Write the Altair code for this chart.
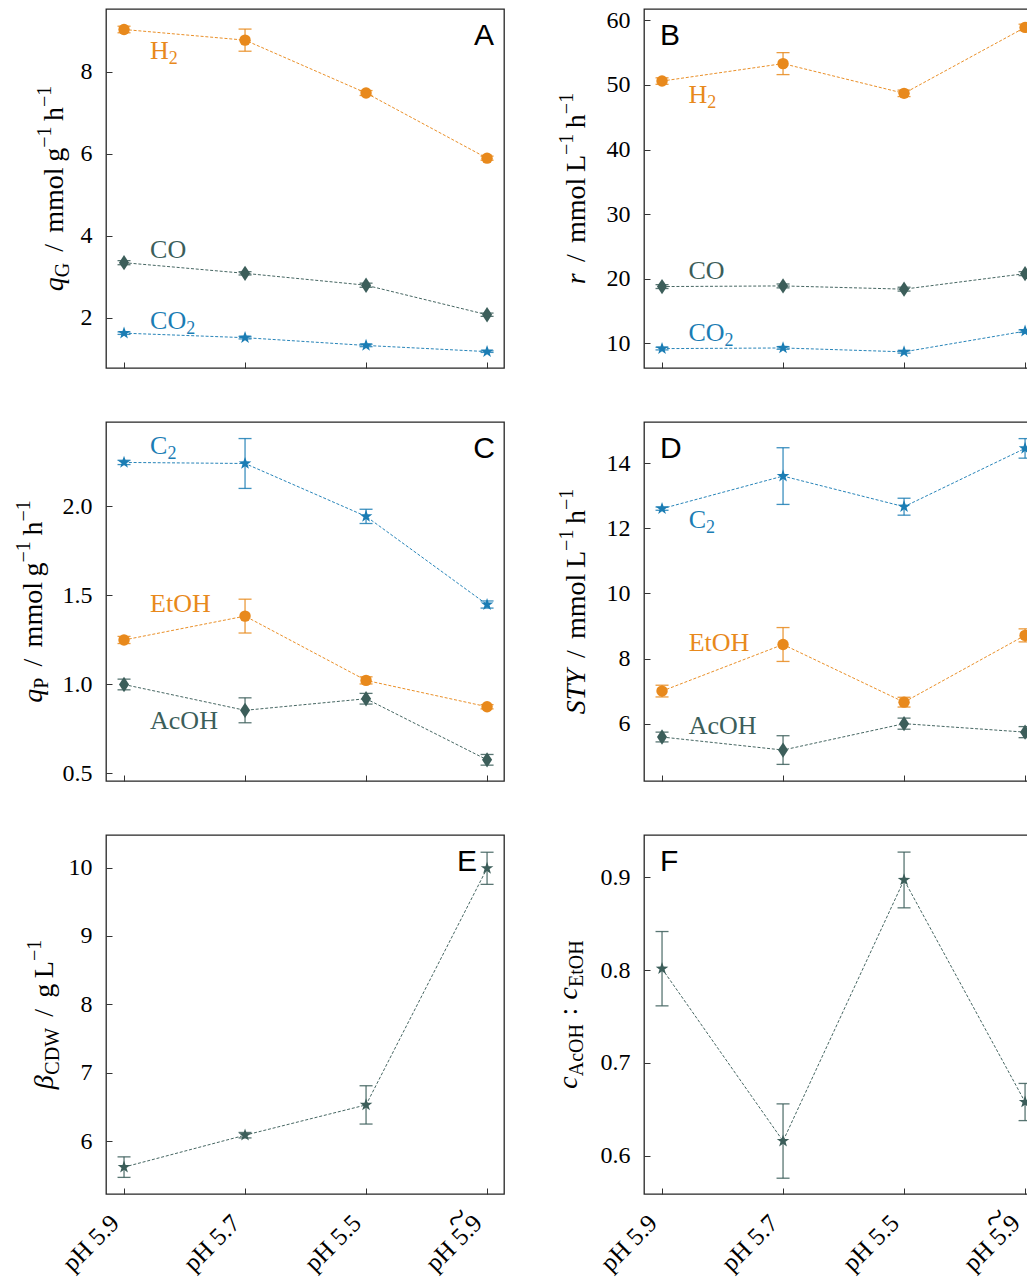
import altair as alt
import pandas as pd

# ---------------- data ----------------
CATS = ["pH 5.9", "pH 5.7", "pH 5.5", "pH 5.9"]
TILDE_ON = [False, False, False, True]   # last label carries a wide tilde over "5.9"
XI = [0, 1, 2, 3]

A_H2 = [9.03, 8.77, 7.48, 5.89]
A_H2_err = [0.08, 0.27, 0.06, 0.05]
A_CO = [3.34, 3.08, 2.79, 2.07]
A_CO_err = [0.05, 0.04, 0.05, 0.04]
A_CO2 = [1.62, 1.51, 1.32, 1.17]
A_CO2_err = [0.03, 0.03, 0.03, 0.02]

B_H2 = [50.6, 53.3, 48.7, 58.9]
B_H2_err = [0.5, 1.7, 0.5, 0.5]
B_CO = [18.8, 18.9, 18.4, 20.8]
B_CO_err = [0.3, 0.3, 0.3, 0.3]
B_CO2 = [9.2, 9.3, 8.7, 11.9]
B_CO2_err = [0.2, 0.2, 0.2, 0.2]

C_C2 = [2.246, 2.24, 1.943, 1.448]
C_C2_err = [0.012, 0.14, 0.04, 0.02]
C_EtOH = [1.249, 1.383, 1.022, 0.874]
C_EtOH_err = [0.02, 0.095, 0.02, 0.012]
C_AcOH = [0.999, 0.854, 0.919, 0.576]
C_AcOH_err = [0.03, 0.07, 0.03, 0.03]

D_C2 = [12.6, 13.6, 12.66, 14.45]
D_C2_err = [0.05, 0.87, 0.26, 0.3]
D_EtOH = [7.0, 8.43, 6.66, 8.71]
D_EtOH_err = [0.18, 0.52, 0.15, 0.2]
D_AcOH = [5.59, 5.19, 6.0, 5.74]
D_AcOH_err = [0.15, 0.44, 0.17, 0.17]

E_CDW = [5.62, 6.087, 6.53, 9.99]
E_CDW_err = [0.15, 0.04, 0.28, 0.235]

F_RATIO = [0.8015, 0.616, 0.897, 0.658]
F_RATIO_err = [0.04, 0.04, 0.03, 0.02]

# ---------------- style ----------------
ORANGE = "#E8891C"
DARK = "#3C5E5A"
BLUE = "#1B7DB4"
SERIF = "Liberation Serif"
SANS = "Liberation Sans"
W, H = 398, 359
MAIN, SCRIPT = 28, 20
XLAB = 25

STAR = ("M0,-1L0.235,-0.324L0.951,-0.309L0.38,0.124L0.588,0.809L0,0.4"
        "L-0.588,0.809L-0.38,0.124L-0.951,-0.309L-0.235,-0.324Z")
THIN_DIAMOND = "M0,-1L0.66,0L0,1L-0.66,0Z"
MARK = {
    "circle": dict(shape="circle", size=130),
    "diamond": dict(shape=THIN_DIAMOND, size=235),
    "star": dict(shape=STAR, size=175),
}

REG = {' ': 250, '/': 278, ':': 278, 'm': 778, 'o': 500, 'l': 278, 'g': 500,
       'h': 500, 'L': 611, 'G': 722, 'P': 556, 'C': 667, 'D': 722, 'W': 944,
       'A': 722, 'c': 444, 'O': 722, 'H': 722, 'E': 611, 't': 278,
       '\u2212': 564, '1': 500, '2': 500}
ITA = {'q': 500, 'r': 389, 'S': 500, 'T': 556, 'Y': 556, 'c': 444, '\u03b2': 520}


def tw(s, size, italic=False):
    tab = ITA if italic else REG
    return sum(tab.get(ch, 500) for ch in s) / 1000.0 * size


ONE = pd.DataFrame({"k": [0]})


def text_value(t, x, y, size, style="normal", font=SERIF, angle=0, align="left",
               color="black", baseline="alphabetic"):
    return alt.Chart(ONE).mark_text(
        text=t, angle=angle, align=align, baseline=baseline, font=font,
        fontSize=size, fontStyle=style, color=color,
    ).encode(x=alt.value(x), y=alt.value(y))


def y_title(pieces, base_x):
    widths = []
    for kind, t in pieces:
        if kind == "i":
            widths.append(tw(t, MAIN, True))
        elif kind == "r":
            widths.append(tw(t, MAIN))
        elif kind in ("sub", "sup"):
            widths.append(tw(t, SCRIPT))
        else:
            widths.append(float(t) * MAIN)
    total = sum(widths)
    cur = H / 2 + total / 2
    layers = []
    for (kind, t), w in zip(pieces, widths):
        if kind == "gap":
            cur -= w
            continue
        if kind == "i":
            layers.append(text_value(t, base_x, cur, MAIN, "italic", angle=270))
        elif kind == "r":
            layers.append(text_value(t, base_x, cur, MAIN, angle=270))
        elif kind == "sub":
            layers.append(text_value(t, base_x + 6, cur, SCRIPT, angle=270))
        elif kind == "sup":
            layers.append(text_value(t, base_x - 12, cur, SCRIPT, angle=270))
        cur -= w
    return layers


def panel(series, ydom, yticks, yfmt, letter, letter_x, letter_align,
          title_pieces, title_x, show_x, labels):
    xscale = alt.Scale(domain=[-0.149, 3.14], nice=False, zero=False)
    yscale = alt.Scale(domain=ydom, nice=False, zero=False)
    xaxis = alt.Axis(
        values=XI, title=None, grid=False, domain=False, tickSize=6, offset=-6,
        tickColor="#333333", tickWidth=1, labels=show_x,
        labelExpr="[" + ",".join("'" + c + "'" for c in CATS) + "][datum.value]",
        labelAngle=315, labelAlign="right", labelBaseline="top", labelPadding=16,
        labelOffset=-18, labelFont=SERIF, labelFontSize=XLAB, labelColor="black",
        labelOverlap=False,
    )
    yaxis = alt.Axis(
        values=yticks, format=yfmt, title=None, grid=False, domain=False,
        tickSize=6, offset=-6, tickColor="#333333", tickWidth=1, labelPadding=14,
        labelFont=SERIF, labelFontSize=24, labelColor="black", labelOverlap=False,
    )
    xenc = alt.X("x:Q", scale=xscale, axis=xaxis)
    layers = []
    for vals, errs, color, mk in series:
        df = pd.DataFrame({
            "x": XI, "y": vals,
            "lo": [v - e for v, e in zip(vals, errs)],
            "hi": [v + e for v, e in zip(vals, errs)],
        })
        base = alt.Chart(df)
        layers.append(base.mark_line(color=color, strokeWidth=1, strokeDash=[3, 1.8],
                                     opacity=0.95).encode(
            x=xenc, y=alt.Y("y:Q", scale=yscale, axis=yaxis)))
        layers.append(base.mark_rule(color=color, strokeWidth=1.3, opacity=0.85).encode(
            x=xenc, y=alt.Y("lo:Q", scale=yscale, axis=yaxis), y2="hi:Q"))
        for f in ("lo", "hi"):
            layers.append(base.mark_rule(color=color, strokeWidth=1.3, opacity=0.85,
                                         xOffset=-6.5, x2Offset=6.5).encode(
                x=xenc, x2="x:Q", y=alt.Y(f + ":Q", scale=yscale, axis=yaxis)))
        layers.append(base.mark_point(filled=True, opacity=1, color=color,
                                      **MARK[mk]).encode(
            x=xenc, y=alt.Y("y:Q", scale=yscale, axis=yaxis)))
    for lx, ly, main, sub, color in labels:
        layers.append(alt.Chart(ONE).mark_text(
            text=main, align="left", baseline="alphabetic", font=SERIF,
            fontSize=26, color=color).encode(
            x=alt.X(datum=lx, scale=xscale, axis=xaxis),
            y=alt.Y(datum=ly, scale=yscale, axis=yaxis)))
        if sub:
            layers.append(alt.Chart(ONE).mark_text(
                text=sub, align="left", baseline="alphabetic", font=SERIF,
                fontSize=18, color=color, dx=tw(main, 26), dy=5).encode(
                x=alt.X(datum=lx, scale=xscale, axis=xaxis),
                y=alt.Y(datum=ly, scale=yscale, axis=yaxis)))
    if show_x:
        # wide tilde accent over "5.9" of the flagged category label
        for xi, flag in zip(XI, TILDE_ON):
            if flag:
                layers.append(alt.Chart(ONE).mark_text(
                    text="~", angle=315, align="center", baseline="middle",
                    font=SERIF, fontSize=36, color="black",
                    xOffset=-30, yOffset=24).encode(
                    x=alt.X(datum=xi, scale=xscale, axis=xaxis),
                    y=alt.Y(datum=ydom[0], scale=yscale, axis=yaxis)))
    layers.append(text_value(letter, letter_x, 36, 30, font=SANS, align=letter_align))
    layers += y_title(title_pieces, title_x)
    return alt.layer(*layers).properties(width=W, height=H)


SUPM1 = ("sup", "\u22121")
pA = panel(
    [(A_H2, A_H2_err, ORANGE, "circle"), (A_CO, A_CO_err, DARK, "diamond"),
     (A_CO2, A_CO2_err, BLUE, "star")],
    [0.77, 9.53], [2, 4, 6, 8], "d", "A", 388, "right",
    [("i", "q"), ("sub", "G"), ("gap", 0.4), ("r", "/"), ("gap", 0.4), ("r", "mmol"),
     ("gap", 0.2), ("r", "g"), SUPM1, ("gap", 0.2), ("r", "h"), SUPM1],
    -43, False,
    [(0.215, 8.30, "H", "2", ORANGE), (0.215, 3.456, "CO", None, DARK),
     (0.215, 1.717, "CO", "2", BLUE)],
)
pB = panel(
    [(B_H2, B_H2_err, ORANGE, "circle"), (B_CO, B_CO_err, DARK, "diamond"),
     (B_CO2, B_CO2_err, BLUE, "star")],
    [6.2, 61.75], [10, 20, 30, 40, 50, 60], "d", "B", 16, "left",
    [("i", "r"), ("gap", 0.4), ("r", "/"), ("gap", 0.4), ("r", "mmol"),
     ("gap", 0.2), ("r", "L"), SUPM1, ("gap", 0.2), ("r", "h"), SUPM1],
    -59, False,
    [(0.218, 47.26, "H", "2", ORANGE), (0.218, 20.0, "CO", None, DARK),
     (0.218, 10.36, "CO", "2", BLUE)],
)
pC = panel(
    [(C_C2, C_C2_err, BLUE, "star"), (C_EtOH, C_EtOH_err, ORANGE, "circle"),
     (C_AcOH, C_AcOH_err, DARK, "diamond")],
    [0.457, 2.473], [0.5, 1.0, 1.5, 2.0], ".1f", "C", 389, "right",
    [("i", "q"), ("sub", "P"), ("gap", 0.4), ("r", "/"), ("gap", 0.4), ("r", "mmol"),
     ("gap", 0.2), ("r", "g"), SUPM1, ("gap", 0.2), ("r", "h"), SUPM1],
    -64, False,
    [(0.215, 2.292, "C", "2", BLUE), (0.215, 1.407, "EtOH", None, ORANGE),
     (0.215, 0.747, "AcOH", None, DARK)],
)
pD = panel(
    [(D_C2, D_C2_err, BLUE, "star"), (D_EtOH, D_EtOH_err, ORANGE, "circle"),
     (D_AcOH, D_AcOH_err, DARK, "diamond")],
    [4.24, 15.26], [6, 8, 10, 12, 14], "d", "D", 16, "left",
    [("i", "STY"), ("gap", 0.4), ("r", "/"), ("gap", 0.4), ("r", "mmol"),
     ("gap", 0.2), ("r", "L"), SUPM1, ("gap", 0.2), ("r", "h"), SUPM1],
    -59, False,
    [(0.22, 12.0, "C", "2", BLUE), (0.22, 8.23, "EtOH", None, ORANGE),
     (0.22, 5.69, "AcOH", None, DARK)],
)
pE = panel(
    [(E_CDW, E_CDW_err, DARK, "star")],
    [5.227, 10.477], [6, 7, 8, 9, 10], "d", "E", 371, "right",
    [("i", "\u03b2"), ("sub", "CDW"), ("gap", 0.4), ("r", "/"), ("gap", 0.4),
     ("r", "g"), ("gap", 0.2), ("r", "L"), SUPM1],
    -53, True, [],
)
pF = panel(
    [(F_RATIO, F_RATIO_err, DARK, "star")],
    [0.559, 0.9454], [0.6, 0.7, 0.8, 0.9], ".1f", "F", 16, "left",
    [("i", "c"), ("sub", "AcOH"), ("gap", 0.3), ("r", ":"), ("gap", 0.3),
     ("i", "c"), ("sub", "EtOH")],
    -67, True, [],
)

chart = alt.concat(
    pA, pB, pC, pD, pE, pF,
    columns=2, spacing={"row": 54, "column": 140}, bounds="flush",
).configure_view(stroke="#262626", strokeWidth=1.3).properties(
    padding={"left": 5, "top": -1, "right": -16, "bottom": 0}
)

chart.save("out.html", embed_options={"renderer": "svg", "actions": False})
